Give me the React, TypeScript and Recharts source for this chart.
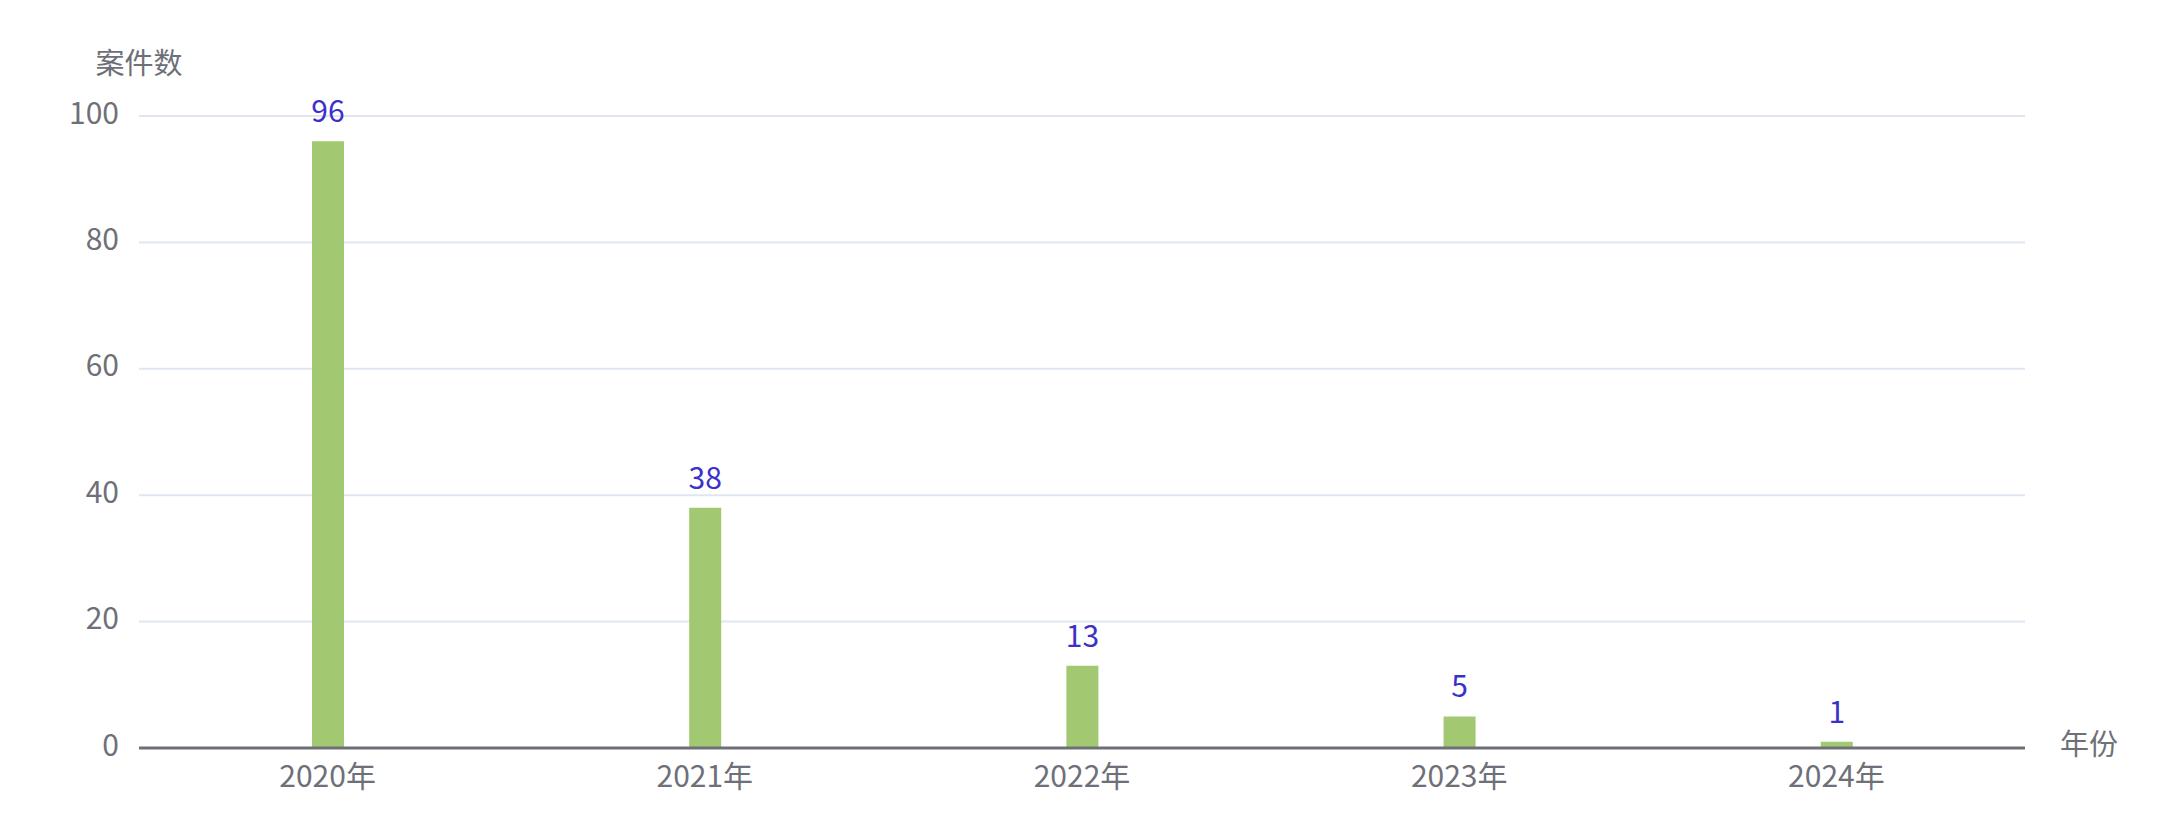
import { Bar, BarChart, CartesianGrid, LabelList, XAxis, YAxis } from "recharts";

const years = ["2020年", "2021年", "2022年", "2023年", "2024年"];
const caseCounts = [96, 38, 13, 5, 1];
const yTicks = [0, 20, 40, 60, 80, 100];

const font = '"Noto Sans CJK SC", "Noto Sans", sans-serif';
const textColor = "#6e7079";

const chartData = years.map((year, i) => ({ year, count: caseCounts[i] }));

export default function App() {
  return (
    <div style={{ position: "absolute", left: 0, top: 0, background: "#fff" }}>
      <BarChart
        width={2165}
        height={825}
        data={chartData}
        margin={{ top: 116, right: 140, bottom: 47, left: 79 }}
        style={{ fontFamily: font }}
      >
        <CartesianGrid vertical={false} stroke="#e0e6f1" strokeWidth={2} />
        <XAxis
          dataKey="year"
          height={30}
          tickSize={0}
          tickMargin={18}
          tick={{ fontSize: 30, fill: textColor, fontFamily: font }}
          axisLine={{ stroke: textColor, strokeWidth: 3 }}
          tickLine={false}
          interval={0}
          label={{
            value: "年份",
            position: "right",
            offset: 35,
            dy: -18,
            fontSize: 29,
            fill: textColor,
            fontFamily: font,
          }}
        />
        <YAxis
          width={60}
          domain={[0, 100]}
          ticks={yTicks}
          interval={0}
          tickSize={0}
          tickMargin={20}
          axisLine={false}
          tickLine={false}
          tick={{ fontSize: 30, fill: textColor, fontFamily: font, dy: -3 }}
          label={{
            value: "案件数",
            position: "top",
            offset: 42,
            dx: 30,
            fontSize: 29,
            fill: textColor,
            fontFamily: font,
          }}
        />
        <Bar dataKey="count" fill="#a2c971" barSize={32} isAnimationActive={false}>
          <LabelList
            dataKey="count"
            position="top"
            offset={19}
            fill="#3b30c9"
            fontSize={30}
            fontFamily={font}
          />
        </Bar>
      </BarChart>
    </div>
  );
}
